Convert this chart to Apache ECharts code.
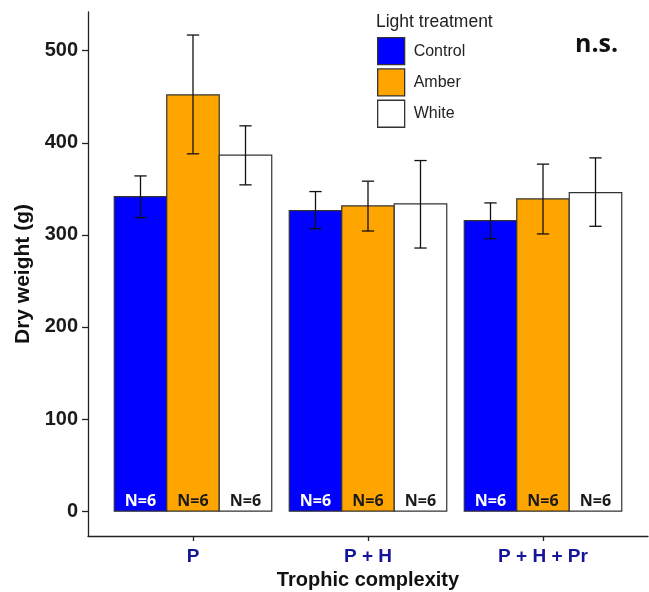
<!DOCTYPE html>
<html>
<head>
<meta charset="utf-8">
<script src="https://cdn.jsdelivr.net/npm/echarts@6/dist/echarts.min.js"></script>
<style>
  html, body { margin: 0; padding: 0; background: #fff; }
  #chart { width: 649px; height: 592px; }
</style>
</head>
<body>
<div id="chart"></div>
<script>
// values
const categories = ["P", "P + H", "P + H + Pr"];
const treatments = ["Control", "Amber", "White"];
const control = [341.5, 326.3, 315.4];
const amber = [452, 331.4, 339];
const white = [386.5, 333.6, 345.9];
// error bars [low, high]
const controlErr = [[318.7, 364], [306.7, 347], [295.8, 334.7]];
const amberErr = [[388, 517], [304.2, 358.3], [301, 376.8]];
const whiteErr = [[354.3, 418.4], [285.7, 380.7], [309.3, 383.6]];
const sampleN = [6, 6, 6];
const yTicks = [0, 100, 200, 300, 400, 500];

const fills = ["#0000FF", "#FFA500", "#FFFFFF"];
const nColors = ["#FFFFFF", "#1a1a1a", "#1a1a1a"];
const offsets = [-0.3, 0, 0.3];
const barW = 0.3;
const capW = 0.07;

const chart = echarts.init(document.getElementById("chart"));

// one custom series per treatment: bar + error bar + N label
const makeSeries = (idx, vals, errs) => ({
  name: treatments[idx],
  type: "custom",
  itemStyle: { color: fills[idx] },
  encode: { x: 0, y: 1 },
  data: vals.map((v, i) => [i + 1, v, errs[i][0], errs[i][1], sampleN[i]]),
  renderItem: (params, api) => {
    const cx = api.value(0) + offsets[idx];
    const v = api.value(1);
    const tl = api.coord([cx - barW / 2, v]);
    const br = api.coord([cx + barW / 2, 0]);
    const lo = api.coord([cx, api.value(2)]);
    const hi = api.coord([cx, api.value(3)]);
    const capL = api.coord([cx - capW / 2, 0])[0];
    const capR = api.coord([cx + capW / 2, 0])[0];
    const lbl = api.coord([cx, 10.5]);
    const line = { stroke: "#111", lineWidth: 1.3 };
    return {
      type: "group",
      children: [
        {
          type: "rect",
          shape: { x: tl[0], y: tl[1], width: br[0] - tl[0], height: br[1] - tl[1] },
          style: { fill: fills[idx], stroke: "#333", lineWidth: 1.2 }
        },
        { type: "line", shape: { x1: lo[0], y1: lo[1], x2: hi[0], y2: hi[1] }, style: line },
        { type: "line", shape: { x1: capL, y1: lo[1], x2: capR, y2: lo[1] }, style: line },
        { type: "line", shape: { x1: capL, y1: hi[1], x2: capR, y2: hi[1] }, style: line },
        {
          type: "text",
          x: lbl[0],
          y: lbl[1],
          style: {
            text: "N=" + api.value(4),
            fill: nColors[idx],
            font: "bold 16px 'Open Sans'",
            align: "center",
            verticalAlign: "middle"
          }
        }
      ]
    };
  }
});

const axisFont = { fontFamily: "Liberation Sans", fontWeight: "bold", fontSize: 20 };

const option = {
  animation: false,
  backgroundColor: "#fff",
  title: [
    {
      text: "Light treatment",
      left: 376,
      top: 13,
      padding: 0,
      textStyle: { fontFamily: "Liberation Sans", fontWeight: "normal", fontSize: 17.5, color: "#222" }
    },
    {
      text: "n.s.",
      left: 575,
      top: 32,
      padding: 0,
      textStyle: { fontFamily: "Open Sans", fontWeight: "bold", fontSize: 25, color: "#111" }
    }
  ],
  legend: {
    orient: "vertical",
    left: 377,
    top: 37,
    padding: 0,
    itemWidth: 27,
    itemHeight: 27,
    itemGap: 3,
    icon: "rect",
    data: treatments.map((t, i) => ({
      name: t,
      itemStyle: { color: fills[i], borderColor: "#333", borderWidth: 1.3 }
    })),
    textStyle: { fontFamily: "Liberation Sans", fontSize: 16, color: "#222", padding: [0, 0, 0, 4] }
  },
  grid: { left: 88, right: 1, top: 12, bottom: 56, outerBoundsMode: "none", containLabel: false },
  xAxis: {
    type: "value",
    min: 0.4,
    max: 3.6,
    name: "Trophic complexity",
    nameLocation: "middle",
    nameGap: 34,
    nameTextStyle: { ...axisFont, color: "#111" },
    splitLine: { show: false },
    axisLine: { show: true, onZero: false, lineStyle: { color: "#222", width: 1.3 } },
    axisTick: { show: true, length: 5, customValues: [1, 2, 3], lineStyle: { color: "#222", width: 1.3 } },
    axisLabel: {
      customValues: [1, 2, 3],
      formatter: (v) => categories[Math.round(v) - 1],
      margin: 11,
      ...axisFont,
      fontSize: 19,
      color: "#15159a"
    }
  },
  yAxis: {
    type: "value",
    min: -27,
    max: 542,
    name: "Dry weight (g)",
    nameLocation: "middle",
    nameGap: 47,
    nameTextStyle: { ...axisFont, fontSize: 21, color: "#111" },
    splitLine: { show: false },
    axisLine: { show: true, onZero: false, lineStyle: { color: "#222", width: 1.3 } },
    axisTick: { show: true, length: 6, customValues: yTicks, lineStyle: { color: "#222", width: 1.3 } },
    axisLabel: { customValues: yTicks, margin: 10, ...axisFont, color: "#1a1a1a" }
  },
  series: [
    makeSeries(0, control, controlErr),
    makeSeries(1, amber, amberErr),
    makeSeries(2, white, whiteErr)
  ]
};

chart.setOption(option);
</script>
</body>
</html>
